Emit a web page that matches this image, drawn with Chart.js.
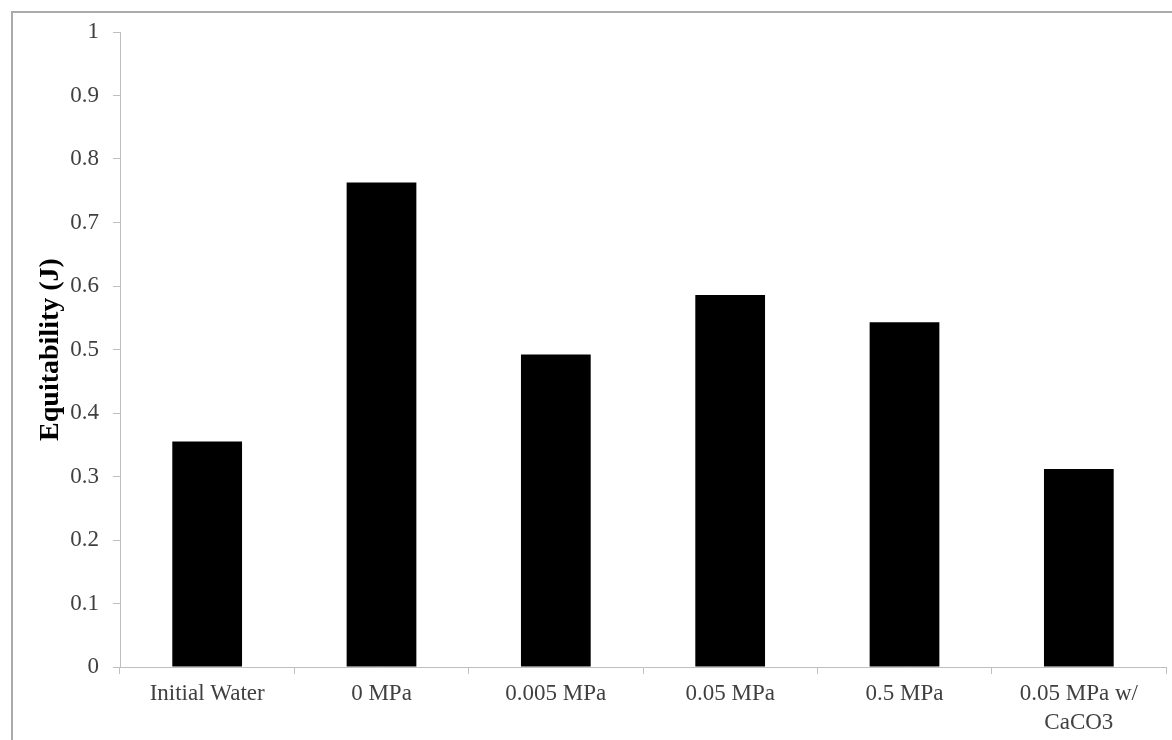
<!DOCTYPE html>
<html>
<head>
<meta charset="utf-8">
<script src="https://cdn.jsdelivr.net/npm/chart.js@4"></script>
<style>
  html, body { margin: 0; padding: 0; background: #fff; overflow: hidden; }
  .wrap { position: relative; width: 1172px; height: 740px; }
  .frame {
    position: absolute; left: 11px; top: 11px; width: 1300px; height: 900px;
    border-left: 2px solid #ababab; border-top: 2px solid #ababab;
  }
  canvas { position: absolute; left: 0; top: 0; }
</style>
</head>
<body>
<div class="wrap">
  <div class="frame"></div>
  <canvas id="chart" width="1172" height="740"></canvas>
</div>
<script>
// categories and values
const categories = ['Initial Water', '0 MPa', '0.005 MPa', '0.05 MPa', '0.5 MPa', ['0.05 MPa w/', 'CaCO3']];
const equitability = [0.355, 0.763, 0.492, 0.586, 0.543, 0.312];
const yTicks = [0, 0.1, 0.2, 0.3, 0.4, 0.5, 0.6, 0.7, 0.8, 0.9, 1];

const axisGrey = '#bfbfbf';
const serif = "'Liberation Serif', 'DejaVu Serif', serif";

const ctx = document.getElementById('chart').getContext('2d');
new Chart(ctx, {
  type: 'bar',
  data: {
    labels: categories,
    datasets: [{
      label: 'Equitability (J)',
      data: equitability,
      backgroundColor: '#000',
      borderWidth: 0,
      barPercentage: 0.8,
      categoryPercentage: 0.5
    }]
  },
  options: {
    responsive: false,
    animation: false,
    layout: { padding: { top: 32, right: 6, bottom: 0, left: 0 } },
    plugins: {
      legend: { display: false },
      tooltip: { enabled: false }
    },
    scales: {
      x: {
        offset: true,
        grid: { offset: true, drawOnChartArea: false, color: axisGrey, tickLength: 7 },
        border: { color: axisGrey },
        ticks: {
          color: '#404040',
          font: { family: serif, size: 23, lineHeight: 1.25 },
          padding: 6, maxRotation: 0, autoSkip: false
        },
        afterFit: function (scale) { scale.height = 73; }
      },
      y: {
        min: 0,
        max: 1,
        afterBuildTicks: function (scale) {
          scale.ticks = yTicks.map(v => ({ value: v }));
        },
        grid: { drawOnChartArea: false, color: axisGrey, tickLength: 7 },
        border: { color: axisGrey },
        ticks: {
          color: '#404040',
          font: { family: serif, size: 23 },
          padding: 14,
          callback: function (value) { return String(Math.round(value * 10) / 10); }
        },
        title: {
          display: true,
          text: 'Equitability (J)',
          color: '#000',
          font: { family: serif, size: 28, weight: 'bold' },
          padding: { top: 34, bottom: 0 }
        },
        afterFit: function (scale) { scale.width = 120; }
      }
    }
  }
});
</script>
</body>
</html>
